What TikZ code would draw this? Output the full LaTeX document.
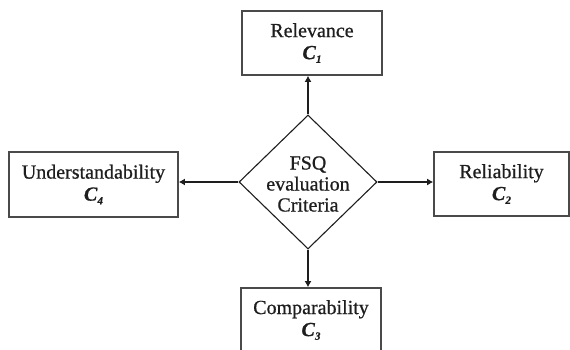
\documentclass[tikz,border=0pt]{standalone}
\usepackage{fontspec}
\setmainfont{Liberation Serif}[RawFeature={embolden=0.7}]
\usetikzlibrary{shapes.geometric,arrows.meta}
\definecolor{boxline}{HTML}{4A4A4A}
\definecolor{ink}{HTML}{1E1E1E}
\tikzset{
  critbox/.style={draw=boxline, line width=1.6pt, rectangle, inner sep=0pt,
    align=center, text=ink, font=\fontsize{20}{22}\selectfont},
  hub/.style={draw=ink, line width=1.1pt, diamond, inner sep=0pt},
  hubtext/.style={align=center, text=ink, font=\fontsize{20}{21}\selectfont},
  link/.style={draw=ink, line width=2.8pt, -{Latex[length=6pt,width=7pt]}},
}
\newcommand{\crit}[1]{\textbf{\textit{C}}\raisebox{-0.4ex}{\fontsize{11}{11}\selectfont\textbf{\textit{#1}}}}
\begin{document}
\begin{tikzpicture}[x=1pt,y=-1pt]
  \useasboundingbox[fill=white] (0,0) rectangle (570,350);

  % central diamond and its label
  \node[hub, minimum width=138pt, minimum height=134pt] (hubnode) at (308,182) {};
  \node[hubtext] (hublabel) at (308,184) {FSQ\\evaluation\\Criteria};

  % the four criteria
  \node[critbox, minimum width=140pt, minimum height=64pt] (c1) at (312,43)
    {Relevance\\\crit{1}};
  \node[critbox, minimum width=135pt, minimum height=64pt] (c2) at (501.5,184)
    {Reliability\\\crit{2}};
  \node[critbox, minimum width=140pt, minimum height=64pt] (c3) at (311,320)
    {Comparability\\\crit{3}};
  \node[critbox, minimum width=169pt, minimum height=65pt] (c4) at (93.5,184.5)
    {Understandability\\\crit{4}};

  % connectors from the diamond to each criterion
  \draw[link] (hubnode.north) -- (hubnode.north |- c1.south);
  \draw[link] (hubnode.east) -- (hubnode.east -| c2.west);
  \draw[link] (hubnode.south) -- (hubnode.south |- c3.north);
  \draw[link] (hubnode.west) -- (hubnode.west -| c4.east);
\end{tikzpicture}
\end{document}
